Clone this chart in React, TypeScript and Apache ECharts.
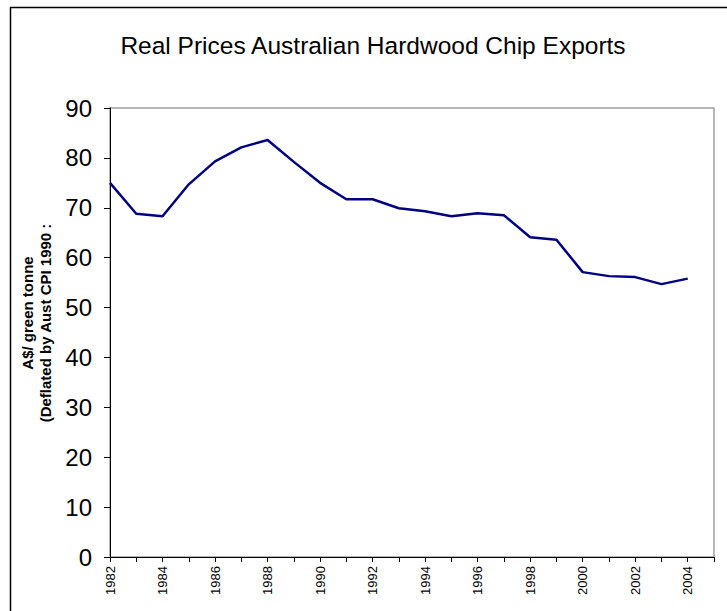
import React, { useEffect, useRef } from "react";
import * as echarts from "echarts";

const years = ["1982","1983","1984","1985","1986","1987","1988","1989","1990","1991","1992","1993","1994","1995","1996","1997","1998","1999","2000","2001","2002","2003","2004","2005"];
const prices = [75.0, 68.8, 68.3, 74.7, 79.3, 82.1, 83.6, 79.2, 75.0, 71.7, 71.7, 69.9, 69.3, 68.3, 68.9, 68.5, 64.1, 63.6, 57.1, 56.3, 56.1, 54.7, 55.8];
const titleText = "Real Prices Australian Hardwood Chip Exports";
const yTitle1 = "A$/ green tonne";
const yTitle2 = "(Deflated by Aust CPI 1990 :";

export default function App() {
  const ref = useRef<HTMLDivElement>(null);
  useEffect(() => {
    if (!ref.current) return;
    const chart = echarts.init(ref.current, null, { renderer: "svg" });
    const font = "Liberation Sans";
    chart.setOption({
      animation: false,
      backgroundColor: "#ffffff",
      title: {
        text: titleText,
        left: 368,
        top: 28,
        textAlign: "center",
        textStyle: { fontFamily: font, fontSize: 24.5, fontWeight: "normal", color: "#000" },
      },
      grid: {
        left: 110, top: 108, right: 13, bottom: 54,
        show: true, borderColor: "#a0a0a0", borderWidth: 1.5, backgroundColor: "transparent",
      },
      xAxis: {
        type: "category",
        data: years,
        boundaryGap: false,
        axisLine: { lineStyle: { color: "#000", width: 1 } },
        axisTick: { show: true, interval: 0, length: 5, lineStyle: { color: "#000" } },
        axisLabel: { interval: 1, rotate: 90, margin: 9, fontFamily: font, fontSize: 13, color: "#000" },
        splitLine: { show: false },
      },
      yAxis: {
        type: "value",
        min: 0, max: 90, interval: 10,
        axisLine: { show: true, lineStyle: { color: "#000", width: 1 } },
        axisTick: { show: true, length: 6, lineStyle: { color: "#000" } },
        axisLabel: { margin: 18, fontFamily: font, fontSize: 24, color: "#000" },
        splitLine: { show: false },
      },
      graphic: [
        { type: "rect", shape: { x: 10.5, y: 7.5, width: 900, height: 900 }, style: { fill: "none", stroke: "#000", lineWidth: 1.5 }, silent: true, z: -10 },
        { type: "text", x: 27, y: 313, rotation: Math.PI / 2, style: { text: yTitle1, fontFamily: font, fontSize: 15, fontWeight: "bold", fill: "#000", align: "center", verticalAlign: "middle" } },
        { type: "text", x: 45, y: 323, rotation: Math.PI / 2, style: { text: yTitle2, fontFamily: font, fontSize: 15, fontWeight: "bold", fill: "#000", align: "center", verticalAlign: "middle" } },
      ],
      series: [
        {
          type: "line",
          data: prices,
          symbol: "none",
          lineStyle: { color: "#000080", width: 2.5 },
        },
      ],
    });
    return () => chart.dispose();
  }, []);
  return <div ref={ref} style={{ position: "fixed", left: 0, top: 0, width: 727, height: 611 }} />;
}
